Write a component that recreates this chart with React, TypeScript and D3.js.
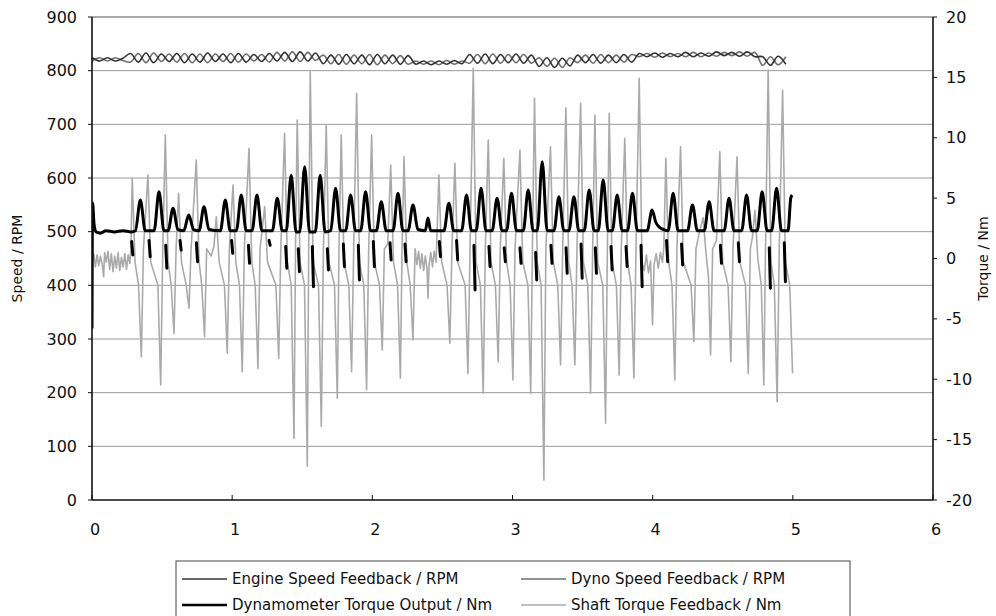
import React from 'react';
import * as d3 from 'd3';

const W = 996;
const H = 616;
const PLOT = { left: 92, right: 933, top: 17, bottom: 500 };

const xTicks = [0, 1, 2, 3, 4, 5, 6];
const speedTicks = [0, 100, 200, 300, 400, 500, 600, 700, 800, 900];
const torqueTicks = [-20, -15, -10, -5, 0, 5, 10, 15, 20];

// speed samples, one every SPEED_STEP seconds
const SPEED_STEP = 0.055;
const engineSpeed = [
  824, 818, 824, 818, 823, 832, 816, 833, 815, 831,
  817, 832, 815, 831, 816, 833, 817, 831, 815, 832,
  816, 830, 817, 832, 818, 834, 817, 835, 818, 833,
  813, 829, 812, 830, 813, 829, 811, 830, 813, 829,
  812, 828, 812, 818, 811, 818, 812, 819, 813, 830,
  814, 831, 813, 830, 815, 831, 814, 829, 808, 824,
  806, 823, 809, 829, 815, 830, 814, 829, 815, 830,
  816, 832, 826, 833, 825, 832, 826, 834, 826, 833,
  827, 835, 828, 834, 827, 835, 826, 826, 810, 827,
  812,
];
const dynoSpeed = [
  818, 824, 818, 824, 819, 816, 832, 815, 833, 817,
  831, 816, 832, 815, 831, 815, 831, 817, 832, 816,
  831, 818, 830, 816, 834, 818, 835, 817, 834, 819,
  829, 813, 830, 812, 829, 813, 830, 811, 829, 813,
  828, 812, 818, 812, 818, 811, 819, 812, 818, 814,
  830, 813, 831, 814, 830, 815, 830, 814, 824, 808,
  823, 806, 824, 815, 829, 814, 830, 815, 829, 816,
  830, 826, 832, 825, 833, 826, 832, 826, 834, 826,
  833, 827, 834, 828, 835, 827, 834, 810, 826, 811,
  826,
];

// Dynamometer torque output [time s, Nm]
const dynoTorque: [number, number][] = [
  [0, -5.8], [0.004, 4.6], [0.015, 2.8], [0.03, 2.2], [0.06, 2.1], [0.1, 2.3], [0.16, 2.2], [0.22, 2.3], [0.28, 2.2],
  [0.31, 2.3], [0.345, 4.84], [0.38, 2.3],
  [0.443, 2.3], [0.478, 5.53], [0.513, 2.3],
  [0.543, 2.3], [0.578, 4.16], [0.613, 2.4],
  [0.655, 2.3], [0.69, 3.6], [0.725, 2.4],
  [0.764, 2.3], [0.799, 4.29], [0.834, 2.4],
  [0.916, 2.3], [0.951, 4.84], [0.986, 2.3],
  [1.03, 2.3], [1.065, 5.26], [1.1, 2.3],
  [1.142, 2.3], [1.177, 5.26], [1.212, 2.3],
  [1.287, 2.3], [1.322, 4.99], [1.357, 2.3],
  [1.386, 2.3], [1.421, 6.9], [1.456, 2.2],
  [1.482, 2.2], [1.517, 7.6], [1.552, 2.2],
  [1.593, 2.2], [1.628, 6.9], [1.663, 2.2],
  [1.703, 2.3], [1.738, 5.81], [1.773, 2.3],
  [1.81, 2.3], [1.845, 5.26], [1.88, 2.3],
  [1.917, 2.3], [1.952, 5.53], [1.987, 2.3],
  [2.029, 2.3], [2.064, 4.7], [2.099, 2.3],
  [2.148, 2.3], [2.183, 5.4], [2.218, 2.3],
  [2.255, 2.3], [2.29, 4.43], [2.325, 2.4], [2.378, 2.3], [2.397, 3.35], [2.416, 2.3], [2.45, 2.3],
  [2.511, 2.3], [2.546, 4.57], [2.581, 2.3],
  [2.637, 2.3], [2.672, 5.26], [2.707, 2.3],
  [2.741, 2.3], [2.776, 5.81], [2.811, 2.3],
  [2.855, 2.3], [2.89, 4.99], [2.925, 2.3],
  [2.958, 2.3], [2.993, 5.4], [3.028, 2.3],
  [3.077, 2.3], [3.112, 5.67], [3.147, 2.3],
  [3.177, 2.3], [3.212, 8.02], [3.247, 2.3],
  [3.296, 2.3], [3.331, 5.12], [3.366, 2.3],
  [3.403, 2.3], [3.438, 5.12], [3.473, 2.3],
  [3.512, 2.3], [3.547, 5.67], [3.582, 2.3],
  [3.612, 2.3], [3.647, 6.5], [3.682, 2.3],
  [3.712, 2.3], [3.747, 5.26], [3.782, 2.3],
  [3.821, 2.3], [3.856, 5.4], [3.891, 2.3],
  [3.961, 2.3], [3.996, 4.02], [4.022, 3.0], [4.047, 2.6], [4.077, 2.4],
  [4.111, 2.3], [4.146, 5.4], [4.181, 2.3],
  [4.249, 2.3], [4.284, 4.43], [4.319, 2.3],
  [4.368, 2.3], [4.403, 4.7], [4.438, 2.3],
  [4.51, 2.3], [4.545, 4.99], [4.58, 2.3],
  [4.635, 2.3], [4.67, 5.26], [4.705, 2.3],
  [4.746, 2.3], [4.781, 5.53], [4.816, 2.3],
  [4.849, 2.3], [4.884, 5.81], [4.919, 2.3],
  [4.966, 2.3], [4.985, 5.0], [4.995, 5.26],
];

// Dynamometer torque dips between the peaks [time s, top Nm, bottom Nm]
const dynoTorqueDips: [number, number, number][] = [
  [0.287, 1.4, 0.29], [0.411, 1.5, 0.15], [0.53, 1.1, -0.81], [0.632, 1.5, 0.7], [0.749, 1.3, -0.26],
  [1.0, 1.5, 0.43], [1.12, 1.1, -0.4], [1.267, 1.5, 1.1], [1.386, 1.0, -0.81], [1.476, 0.8, -1.09],
  [1.576, 1.0, -2.33], [1.683, 0.8, -0.95], [1.797, 1.2, -0.68], [1.904, 1.1, -1.78], [2.011, 1.4, -0.68],
  [2.13, 1.3, -0.12], [2.237, 1.2, -0.26], [2.482, 1.4, 0.15], [2.605, 1.5, -0.12], [2.729, 1.1, -2.6],
  [2.836, 1.0, -0.68], [2.945, 0.9, -0.26], [3.057, 0.9, -0.4], [3.169, 0.5, -1.78], [3.278, 1.1, -0.4],
  [3.386, 0.9, -1.23], [3.493, 1.2, -1.64], [3.595, 0.9, -1.23], [3.707, 1.0, -0.95], [3.814, 1.0, -0.68],
  [3.921, 1.1, -2.33], [4.103, 1.5, -0.26], [4.21, 1.2, -0.54], [4.487, 1.1, -0.4], [4.615, 1.3, -0.26],
  [4.836, 0.9, -2.47], [4.943, 1.3, -1.92],
];

// Shaft torque feedback [time s, Nm]
const shaftTorque: [number, number][] = [
  [0, -0.5], [0.012, 0.4], [0.024, -0.7], [0.036, 0.3], [0.048, -0.6], [0.06, 0.2], [0.072, -0.4], [0.083, -1.5], [0.09, 0.5],
  [0.102, -0.3], [0.114, 0.6], [0.126, -0.9], [0.138, 0.4], [0.15, -1.1], [0.162, 0.2], [0.174, -0.8], [0.186, 0.5],
  [0.198, -1.0], [0.21, 0.1], [0.222, -0.7], [0.234, 0.4], [0.246, -0.9], [0.258, 0.3], [0.27, -0.4], [0.278, 1.0],
  [0.287, 6.64], [0.307, -0.3], [0.332, -2.2], [0.352, -8.13], [0.367, 0.8],
  [0.399, 6.92], [0.419, -0.3], [0.47, -2.2], [0.49, -10.48], [0.505, 0.8],
  [0.523, 10.23], [0.543, -0.3], [0.565, -2.2], [0.585, -6.2], [0.6, 0.8],
  [0.618, 5.4], [0.638, -0.3], [0.672, -2.2], [0.692, -4.12], [0.707, 0.8],
  [0.744, 8.16], [0.764, -0.3], [0.783, -2.2], [0.803, -6.48], [0.818, 0.8], [0.85, 0.2], [0.87, 1.0],
  [0.887, 3.46], [0.907, -0.3], [0.945, -2.2], [0.965, -7.85], [0.98, 0.8],
  [1.006, 6.09], [1.026, -0.3], [1.052, -2.2], [1.072, -9.37], [1.087, 0.8],
  [1.12, 9.13], [1.14, -0.3], [1.164, -2.2], [1.184, -9.1], [1.199, 0.8],
  [1.232, 4.29], [1.252, -0.3], [1.29, -1.5], [1.312, -2.2], [1.332, -8.27], [1.347, 0.8],
  [1.374, 10.37], [1.394, -0.3], [1.421, -2.2], [1.441, -14.9], [1.452, 0.8],
  [1.464, 11.47], [1.484, -0.3], [1.516, -2.2], [1.536, -17.2], [1.546, 0.8],
  [1.557, 15.47], [1.577, -0.3], [1.616, -2.2], [1.636, -13.9], [1.651, 0.8],
  [1.671, 11.0], [1.691, -0.3], [1.73, -2.2], [1.75, -11.58], [1.762, 0.8],
  [1.778, 10.23], [1.798, -0.3], [1.832, -2.2], [1.852, -9.37], [1.867, 0.8],
  [1.888, 13.68], [1.908, -0.3], [1.939, -2.2], [1.959, -10.89], [1.974, 0.8],
  [1.995, 10.23], [2.015, -0.3], [2.051, -2.2], [2.071, -7.58], [2.086, 0.8], [2.11, 1.2],
  [2.131, 7.74], [2.151, -0.3], [2.18, -2.2], [2.2, -9.92], [2.212, 0.8],
  [2.226, 8.43], [2.246, -0.3], [2.27, -2.2], [2.29, -6.75], [2.305, 0.8],
  [2.318, -0.5], [2.33, 0.6], [2.342, -0.8], [2.354, 0.4], [2.366, -1.0], [2.378, 0.2], [2.39, -0.8], [2.397, -3.3],
  [2.405, -0.5], [2.417, 0.5], [2.429, -0.7], [2.441, 0.6], [2.455, -0.3],
  [2.475, 6.92], [2.495, -0.3], [2.533, -2.2], [2.553, -7.02], [2.568, 0.8],
  [2.589, 7.88], [2.609, -0.3], [2.662, -2.2], [2.682, -9.51], [2.697, 0.8],
  [2.72, 15.75], [2.74, -0.3], [2.771, -2.2], [2.791, -11.16], [2.806, 0.8],
  [2.827, 9.81], [2.847, -0.3], [2.878, -2.2], [2.898, -8.55], [2.913, 0.8],
  [2.938, 8.3], [2.958, -0.3], [2.983, -2.2], [3.003, -10.06], [3.018, 0.8],
  [3.053, 8.99], [3.073, -0.3], [3.11, -2.2], [3.13, -11.16], [3.142, 0.8],
  [3.157, 13.27], [3.177, -0.3], [3.204, -2.2], [3.224, -18.37], [3.238, 0.8],
  [3.271, 9.26], [3.291, -0.3], [3.323, -2.2], [3.343, -8.82], [3.358, 0.8],
  [3.381, 12.48], [3.401, -0.3], [3.425, -2.2], [3.445, -8.82], [3.46, 0.8],
  [3.486, 12.85], [3.506, -0.3], [3.537, -2.2], [3.557, -11.16], [3.572, 0.8],
  [3.588, 11.88], [3.608, -0.3], [3.644, -2.2], [3.664, -13.65], [3.677, 0.8],
  [3.69, 12.02], [3.71, -0.3], [3.741, -2.2], [3.761, -9.65], [3.776, 0.8],
  [3.801, 9.95], [3.821, -0.3], [3.846, -2.2], [3.866, -9.92], [3.881, 0.8],
  [3.904, 14.92], [3.924, -0.3], [3.94, -1.0], [3.955, 0.3], [3.97, -1.2], [3.985, -0.2], [3.999, -5.5], [4.01, -0.5],
  [4.025, 0.4], [4.04, -0.8], [4.055, 0.5], [4.07, -0.3], [4.08, 1.0],
  [4.094, 8.3], [4.114, -0.3], [4.138, -2.2], [4.158, -10.06], [4.173, 0.8],
  [4.199, 9.26], [4.219, -0.3], [4.274, -2.2], [4.294, -6.89], [4.309, 0.8], [4.33, 2.0],
  [4.36, 3.4], [4.38, 0.5], [4.398, -1.5], [4.413, -7.99], [4.428, 0.8], [4.455, 1.5],
  [4.479, 8.85], [4.499, -0.3], [4.538, -2.2], [4.558, -8.55], [4.573, 0.8],
  [4.602, 8.43], [4.622, -0.3], [4.662, -2.2], [4.682, -9.51], [4.697, 0.8], [4.712, 1.8],
  [4.73, 4.0], [4.75, 0.0], [4.775, -2.2], [4.793, -10.48], [4.805, 0.8],
  [4.824, 15.61], [4.844, -0.3], [4.868, -2.2], [4.888, -11.86], [4.903, 0.8],
  [4.927, 13.95], [4.947, -0.3], [4.978, -2.2], [4.998, -9.51],
];

const seriesNames = [
  'Engine Speed Feedback / RPM',
  'Dyno Speed Feedback / RPM',
  'Dynamometer Torque Output / Nm',
  'Shaft Torque Feedback / Nm',
];
const COLORS = { engine: '#333333', dyno: '#6e6e6e', torque: '#000000', shaft: '#aaaaaa' };
const FONT = '"DejaVu Sans", Verdana, sans-serif';

export default function App() {
  const x = d3.scaleLinear().domain([0, 6]).range([PLOT.left, PLOT.right]);
  const yS = d3.scaleLinear().domain([0, 900]).range([PLOT.bottom, PLOT.top]);
  const yT = d3.scaleLinear().domain([-20, 20]).range([PLOT.bottom, PLOT.top]);

  const speedLine = d3
    .line<number>()
    .x((_, i) => x(i * SPEED_STEP))
    .y((d) => yS(d))
    .curve(d3.curveCatmullRom.alpha(0.5));
  const torqueLine = d3
    .line<[number, number]>()
    .x((d) => x(d[0]))
    .y((d) => yT(d[1]))
    .curve(d3.curveMonotoneX);
  const shaftLine = d3
    .line<[number, number]>()
    .x((d) => x(d[0]))
    .y((d) => yT(d[1]));
  const dipLine = d3
    .line<[number, number]>()
    .x((d) => x(d[0]))
    .y((d) => yT(d[1]));

  const legendItems = [
    { name: seriesNames[0], color: COLORS.engine, w: 1.5, lx: 182, ly: 579 },
    { name: seriesNames[1], color: COLORS.dyno, w: 1.5, lx: 521, ly: 579 },
    { name: seriesNames[2], color: COLORS.torque, w: 2.5, lx: 182, ly: 605 },
    { name: seriesNames[3], color: COLORS.shaft, w: 1.5, lx: 521, ly: 605 },
  ];

  return (
    <svg
      width={W}
      height={H}
      style={{ position: 'absolute', left: 0, top: 0, background: '#fff', display: 'block' }}
      fontFamily={FONT}
    >
      <rect x={0} y={0} width={W} height={H} fill="#fff" />
      <defs>
        <clipPath id="plotClip">
          <rect x={PLOT.left} y={PLOT.top} width={PLOT.right - PLOT.left} height={PLOT.bottom - PLOT.top} />
        </clipPath>
      </defs>

      {/* gridlines */}
      {speedTicks.slice(1, -1).map((t) => (
        <line key={'g' + t} x1={PLOT.left} x2={PLOT.right} y1={yS(t)} y2={yS(t)} stroke="#9a9a9a" strokeWidth={1} />
      ))}

      {/* data */}
      <g clipPath="url(#plotClip)">
        <path d={shaftLine(shaftTorque) || ''} fill="none" stroke={COLORS.shaft} strokeWidth={1.6} strokeLinejoin="round" />
        <path d={speedLine(dynoSpeed) || ''} fill="none" stroke={COLORS.dyno} strokeWidth={1.6} />
        <path d={speedLine(engineSpeed) || ''} fill="none" stroke={COLORS.engine} strokeWidth={1.6} />
        <path d={torqueLine(dynoTorque) || ''} fill="none" stroke={COLORS.torque} strokeWidth={3} strokeLinejoin="round" />
        {dynoTorqueDips.map((d, i) => (
          <path
            key={'dip' + i}
            d={dipLine([[d[0] - 0.004, d[1]], [d[0] + 0.004, d[2]]]) || ''}
            fill="none"
            stroke={COLORS.torque}
            strokeWidth={3}
            strokeLinecap="round"
          />
        ))}
      </g>

      {/* frame */}
      <line x1={PLOT.left} x2={PLOT.right} y1={PLOT.top} y2={PLOT.top} stroke="#555" strokeWidth={1.2} />
      <line x1={PLOT.left} x2={PLOT.left} y1={PLOT.top} y2={PLOT.bottom} stroke="#111" strokeWidth={1.6} />
      <line x1={PLOT.right} x2={PLOT.right} y1={PLOT.top} y2={PLOT.bottom} stroke="#111" strokeWidth={1.6} />
      <line x1={PLOT.left} x2={PLOT.right} y1={PLOT.bottom} y2={PLOT.bottom} stroke="#111" strokeWidth={1.6} />

      {/* left axis */}
      {speedTicks.map((t) => (
        <g key={'ls' + t}>
          <line x1={PLOT.left - 4} x2={PLOT.left} y1={yS(t)} y2={yS(t)} stroke="#111" />
          <text x={77} y={yS(t)} dy="0.35em" textAnchor="end" fontSize={16} fill="#111">
            {t}
          </text>
        </g>
      ))}
      {/* right axis */}
      {torqueTicks.map((t) => (
        <g key={'rt' + t}>
          <line x1={PLOT.right} x2={PLOT.right + 4} y1={yT(t)} y2={yT(t)} stroke="#111" />
          <text x={946} y={yT(t)} dy="0.35em" textAnchor="start" fontSize={16} fill="#111">
            {t}
          </text>
        </g>
      ))}
      {/* bottom axis */}
      {xTicks.map((t) => (
        <g key={'xt' + t}>
          <line x1={x(t)} x2={x(t)} y1={PLOT.bottom} y2={PLOT.bottom - 5} stroke="#111" />
          <text x={x(t) + 3} y={535} textAnchor="middle" fontSize={16} fill="#111">
            {t}
          </text>
        </g>
      ))}

      <text
        transform={`translate(22,${(PLOT.top + PLOT.bottom) / 2}) rotate(-90)`}
        textAnchor="middle"
        fontSize={14}
        fill="#111"
      >
        Speed / RPM
      </text>
      <text
        transform={`translate(988,${(PLOT.top + PLOT.bottom) / 2}) rotate(-90)`}
        textAnchor="middle"
        fontSize={14}
        fill="#111"
      >
        Torque / Nm
      </text>

      {/* legend */}
      <rect x={176} y={561} width={674} height={70} fill="#fff" stroke="#444" strokeWidth={1} />
      {legendItems.map((it) => (
        <g key={it.name}>
          <line x1={it.lx} x2={it.lx + 45} y1={it.ly} y2={it.ly} stroke={it.color} strokeWidth={it.w} />
          <text x={it.lx + 50} y={it.ly} dy="0.35em" fontSize={15} fill="#111">
            {it.name}
          </text>
        </g>
      ))}
    </svg>
  );
}
